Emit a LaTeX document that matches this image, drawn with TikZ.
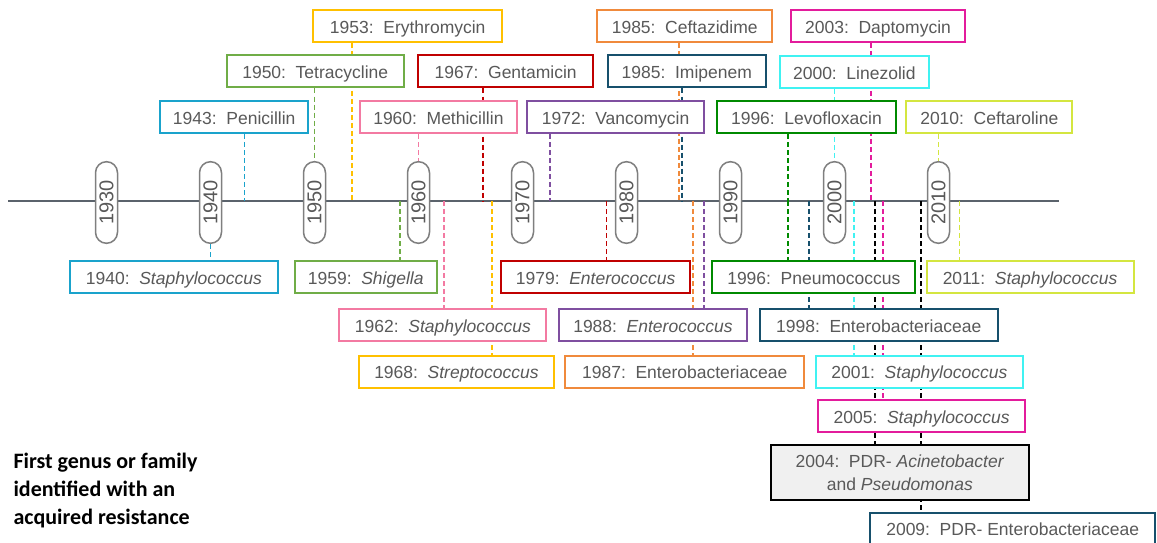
\documentclass[tikz,border=0pt]{standalone}
\usepackage{fontspec}
\setmainfont{Liberation Sans}
\newfontfamily\legendfont{Carlito}
\usetikzlibrary{shapes.misc,backgrounds}
\definecolor{txtgray}{HTML}{595959}
\definecolor{pillgray}{HTML}{7F7F7F}
\definecolor{linegray}{HTML}{5B636C}
\definecolor{cblue}{HTML}{1AA3CC}
\definecolor{cgreen}{HTML}{70AD47}
\definecolor{cyellow}{HTML}{FFC000}
\definecolor{cpink}{HTML}{F37AA2}
\definecolor{cred}{HTML}{C00000}
\definecolor{cpurple}{HTML}{7F4FA0}
\definecolor{corange}{HTML}{F08A3C}
\definecolor{cnavy}{HTML}{17506C}
\definecolor{cdkgreen}{HTML}{008A00}
\definecolor{ccyan}{HTML}{40F2F2}
\definecolor{cmagenta}{HTML}{E31C9C}
\definecolor{cygreen}{HTML}{D4E640}
\definecolor{boxfill}{HTML}{F0F0F0}
\newcommand\boxfont{\fontsize{17.5}{21}\selectfont}
\newcommand\pillfont{\fontsize{20}{22}\selectfont}
\newcommand\yrlab[1]{#1:\hspace{0.55em}}
\begin{document}
\begin{tikzpicture}[x=1pt,y=-1pt,
  framebox/.style={draw=#1, line width=2pt, fill=white, text=txtgray, font=\boxfont,
    minimum height=32pt, inner xsep=0pt, inner ysep=0pt, anchor=center},
  box/.style={framebox=#1, text height=14.5pt, text depth=0pt},
  dl/.style={draw=#1, line width=1.9pt, dash pattern=on 5pt off 3pt},
  pill/.style={draw=pillgray, line width=1.5pt, fill=white, rounded rectangle, rotate=90,
    minimum width=81.6pt, minimum height=22pt, inner sep=0pt, font=\pillfont, text=txtgray},
  tline/.style={draw=linegray, line width=2pt}]
\useasboundingbox (0,0) rectangle (1157,543);
\clip (0,0) rectangle (1157,543);

% timeline pills
\node[pill] (p1930) at (106.5,202.5) {1930};
\node[pill] (p1940) at (210.5,202.5) {1940};
\node[pill] (p1950) at (314.5,202.5) {1950};
\node[pill] (p1960) at (418.5,202.5) {1960};
\node[pill] (p1970) at (522.5,202.5) {1970};
\node[pill] (p1980) at (626.5,202.5) {1980};
\node[pill] (p1990) at (730.5,202.5) {1990};
\node[pill] (p2000) at (834.5,202.5) {2000};
\node[pill] (p2010) at (938.5,202.5) {2010};

% top boxes
\node[box=cyellow, minimum width=188.6pt] (ery) at (407.7,25.8) {\yrlab{1953}Erythromycin};
\node[box=corange, minimum width=174.8pt] (cef) at (684.7,25.8) {\yrlab{1985}Ceftazidime};
\node[box=cmagenta, minimum width=174.4pt] (dap) at (878,25.8) {\yrlab{2003}Daptomycin};
\node[box=cgreen, minimum width=176.8pt] (tet) at (315.2,71.5) {\yrlab{1950}Tetracycline};
\node[box=cred, minimum width=175.5pt] (gen) at (505.7,71.5) {\yrlab{1967}Gentamicin};
\node[box=cnavy, minimum width=157.6pt] (imi) at (686.8,71.5) {\yrlab{1985}Imipenem};
\node[box=ccyan, minimum width=148.5pt] (lin) at (854.3,72) {\yrlab{2000}Linezolid};
\node[box=cblue, minimum width=148pt] (pen) at (234.2,117) {\yrlab{1943}Penicillin};
\node[box=cpink, minimum width=156.8pt] (met) at (438.4,117) {\yrlab{1960}Methicillin};
\node[box=cpurple, minimum width=176.8pt] (van) at (615.6,117) {\yrlab{1972}Vancomycin};
\node[box=cdkgreen, minimum width=179.8pt] (lev) at (806.4,117) {\yrlab{1996}Levofloxacin};
\node[box=cygreen, minimum width=165.7pt] (cfr) at (989.3,117) {\yrlab{2010}Ceftaroline};

% bottom boxes
\node[box=cblue, minimum width=207.2pt] (s40) at (173.9,277) {\yrlab{1940}\textit{Staphylococcus}};
\node[box=cgreen, minimum width=141.6pt] (shi) at (365.7,277) {\yrlab{1959}\textit{Shigella}};
\node[box=cred, minimum width=188.6pt] (e79) at (595.6,277) {\yrlab{1979}\textit{Enterococcus}};
\node[box=cdkgreen, minimum width=203pt] (pne) at (813.8,277) {\yrlab{1996}Pneumococcus};
\node[box=cygreen, minimum width=206.8pt] (s11) at (1030.1,277) {\yrlab{2011}\textit{Staphylococcus}};
\node[box=cpink, minimum width=207.1pt] (s62) at (442.9,325) {\yrlab{1962}\textit{Staphylococcus}};
\node[box=cpurple, minimum width=188.8pt] (e88) at (653,325) {\yrlab{1988}\textit{Enterococcus}};
\node[box=cnavy, minimum width=238.4pt] (b98) at (878.7,325) {\yrlab{1998}Enterobacteriaceae};
\node[box=cyellow, minimum width=194.9pt] (str) at (456.4,371.5) {\yrlab{1968}\textit{Streptococcus}};
\node[box=corange, minimum width=238.8pt] (b87) at (684.7,371.5) {\yrlab{1987}Enterobacteriaceae};
\node[box=ccyan, minimum width=206.8pt] (s01) at (919.3,371.5) {\yrlab{2001}\textit{Staphylococcus}};
\node[box=cmagenta, minimum width=206.8pt] (s05) at (921.6,416.3) {\yrlab{2005}\textit{Staphylococcus}};
\node[framebox=black, fill=boxfill, minimum width=258.6pt, minimum height=54.7pt, align=center,
  font=\fontsize{17.5}{22.7}\selectfont] (pdr) at (899.9,472.5)
  {\yrlab{2004}PDR- \textit{Acinetobacter}\\and \textit{Pseudomonas}};
\node[box=cnavy, minimum width=284.6pt] (p09) at (1012.7,528.7) {\yrlab{2009}PDR- Enterobacteriaceae};

% legend
\node[anchor=base west, align=left, text=black,
  font=\legendfont\bfseries\fontsize{22}{27.7}\selectfont] (legend) at (10,524.3)
  {First genus or family\\identified with an\\acquired resistance};

\begin{scope}[on background layer]
% timeline
\coordinate (tl0) at (8,201);
\coordinate (tl1) at (1059,201);
\draw[tline] (tl0) -- (tl1);
% timeline points
\coordinate (d43) at (244.5,201);
\coordinate (d53) at (351.8,201);
\coordinate (d67) at (483.2,201);
\coordinate (d72) at (550,201);
\coordinate (d85a) at (678.8,201);
\coordinate (d85b) at (682.2,201);
\coordinate (d96) at (787.7,201);
\coordinate (d03) at (870.7,201);
\coordinate (u59) at (399.6,201);
\coordinate (u62) at (444,201);
\coordinate (u68) at (492,201);
\coordinate (u79) at (606.5,201);
\coordinate (u87) at (693.3,201);
\coordinate (u88) at (704,201);
\coordinate (u98) at (809.4,201);
\coordinate (u01) at (854.4,201);
\coordinate (u04) at (875.3,201);
\coordinate (u05) at (883,201);
\coordinate (u09) at (921,201);
\coordinate (u11) at (959.5,201);
% upper connectors
\draw[dl=cblue] (pen.south -| d43) -- (d43);
\draw[dl=cgreen] (tet.south -| p1950.east) -- (p1950.east);
\draw[dl=cyellow] (ery.south -| d53) -- (d53);
\draw[dl=cpink] (met.south -| p1960.east) -- (p1960.east);
\draw[dl=cred] (gen.south -| d67) -- (d67);
\draw[dl=cpurple] (van.south -| d72) -- (d72);
\draw[dl=corange] (cef.south -| d85a) -- (d85a);
\draw[dl=cnavy] (imi.south -| d85b) -- (d85b);
\draw[dl=cdkgreen] (lev.south -| d96) -- (d96);
\draw[dl=ccyan] (lin.south -| p2000.east) -- (p2000.east);
\draw[dl=cmagenta] (dap.south -| d03) -- (d03);
\draw[dl=cygreen] (cfr.south -| p2010.east) -- (p2010.east);
% lower connectors
\draw[dl=cblue] (p1940.west) -- (s40.north -| p1940.west);
\draw[dl=cgreen] (u59) -- (shi.north -| u59);
\draw[dl=cpink] (u62) -- (s62.north -| u62);
\draw[dl=cyellow] (u68) -- (str.north -| u68);
\draw[dl=cred] (u79) -- (e79.north -| u79);
\draw[dl=corange] (u87) -- (b87.north -| u87);
\draw[dl=cpurple] (u88) -- (e88.north -| u88);
\draw[dl=cdkgreen] (d96) -- (pne.north -| d96);
\draw[dl=cnavy] (u98) -- (b98.north -| u98);
\draw[dl=ccyan] (u01) -- (s01.north -| u01);
\draw[dl=black] (u04) -- (pdr.north -| u04);
\draw[dl=cmagenta] (u05) -- (s05.north -| u05);
\draw[dl=black] (u09) -- (p09.north -| u09);
\draw[dl=cygreen] (u11) -- (s11.north -| u11);
\end{scope}
\end{tikzpicture}
\end{document}
